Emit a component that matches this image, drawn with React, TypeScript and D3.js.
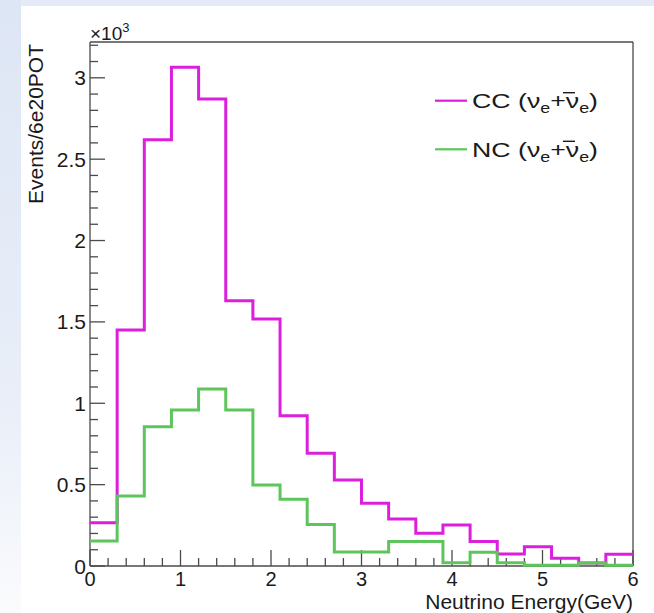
import React from "react";
import * as d3 from "d3";

// ---- data ----
const binLowEdges = [0, 0.3, 0.6, 0.9, 1.2, 1.5, 1.8, 2.1, 2.4, 2.7, 3.0, 3.3, 3.6, 3.9, 4.2, 4.5, 4.8, 5.1, 5.4, 5.7];
const binWidth = 0.3;
const ccEvents = [266, 1450, 2620, 3065, 2870, 1630, 1518, 924, 693, 529, 385, 289, 201, 252, 150, 74, 119, 47, 18, 72];
const ncEvents = [154, 430, 856, 959, 1088, 959, 498, 410, 255, 86, 86, 150, 150, 20, 84, 20, 4, 4, 18, 4];
const xMajorTicks = [0, 1, 2, 3, 4, 5, 6];
const xTickLabels = ["0", "1", "2", "3", "4", "5", "6"];
const yMajorTicks = [0, 500, 1000, 1500, 2000, 2500, 3000];
const yTickLabels = ["0", "0.5", "1", "1.5", "2", "2.5", "3"];
const seriesNames = ["CC", "NC"];
const xTitle = "Neutrino Energy(GeV)";
const yTitle = "Events/6e20POT";

// ---- layout / style ----
const W = 654, H = 613;
const X0 = 90, X1 = 633, Y0 = 566, Y1 = 42;
const CC_COLOR = "#dc1fdc";
const NC_COLOR = "#5cc65c";
const AXIS_COLOR = "#4a4a4a";
const TEXT_COLOR = "#1a1a1a";
const FONT = "'Liberation Sans', Arial, Helvetica, sans-serif";

export default function App() {
  const x = d3.scaleLinear().domain([0, 6]).range([X0, X1]);
  const y = d3.scaleLinear().domain([0, 3220]).range([Y0, Y1]);

  const xMinor = d3.range(0, 6.0001, 0.2).filter((v) => Math.abs(v - Math.round(v)) > 1e-6);
  const yMinor = d3.range(0, 3220, 100).filter((v) => v % 500 !== 0);

  const stepLine = d3
    .line<[number, number]>()
    .x((d) => x(d[0]))
    .y((d) => y(d[1]))
    .curve(d3.curveStepAfter);

  const histPts = (vals: number[]): [number, number][] => {
    const pts: [number, number][] = binLowEdges.map((e, i) => [e, vals[i]]);
    const last = binLowEdges.length - 1;
    pts.push([binLowEdges[last] + binWidth, vals[last]]);
    return pts;
  };

  const series = [
    { name: seriesNames[0], vals: ccEvents, color: CC_COLOR },
    { name: seriesNames[1], vals: ncEvents, color: NC_COLOR },
  ];

  const LEG_X = 472;

  return (
    <div style={{ position: "absolute", left: 0, top: 0 }}>
      <svg width={W} height={H} style={{ display: "block" }} fontFamily={FONT}>
        <defs>
          <linearGradient id="leftGrad" x1="0" y1="0" x2="0" y2="1">
            <stop offset="0" stopColor="#dde6f5" />
            <stop offset="0.65" stopColor="#e9eef8" />
            <stop offset="1" stopColor="#fafbfd" />
          </linearGradient>
        </defs>
        <rect x={0} y={0} width={W} height={H} fill="#e4eaf6" />
        <rect x={0} y={0} width={21} height={H} fill="url(#leftGrad)" />
        <rect x={21} y={6} width={W - 21} height={H - 6} fill="#ffffff" />

        {/* frame top/right */}
        <line x1={X0} x2={X1} y1={Y1} y2={Y1} stroke={AXIS_COLOR} strokeWidth={1.3} />
        <line x1={X1} x2={X1} y1={Y1} y2={Y0} stroke={AXIS_COLOR} strokeWidth={1.3} />

        {/* y axis */}
        <line x1={X0} x2={X0} y1={Y0} y2={Y1} stroke={AXIS_COLOR} strokeWidth={1.3} />
        {yMajorTicks.map((t) => (
          <line key={"ym" + t} x1={X0} x2={X0 + 15} y1={y(t)} y2={y(t)} stroke={AXIS_COLOR} strokeWidth={1.3} />
        ))}
        {yMinor.map((t) => (
          <line key={"yn" + t} x1={X0} x2={X0 + 8} y1={y(t)} y2={y(t)} stroke={AXIS_COLOR} strokeWidth={1.3} />
        ))}
        {yMajorTicks.map((t, i) => (
          <text key={"yl" + t} x={X0 - 4} y={y(t) + 7.5} textAnchor="end" fontSize={21} fill={TEXT_COLOR}>
            {yTickLabels[i]}
          </text>
        ))}

        {/* x axis */}
        <line x1={X0} x2={X1} y1={Y0} y2={Y0} stroke={AXIS_COLOR} strokeWidth={1.3} />
        {xMajorTicks.map((t) => (
          <line key={"xm" + t} x1={x(t)} x2={x(t)} y1={Y0} y2={Y0 - 16} stroke={AXIS_COLOR} strokeWidth={1.3} />
        ))}
        {xMinor.map((t) => (
          <line key={"xn" + t} x1={x(t)} x2={x(t)} y1={Y0} y2={Y0 - 8} stroke={AXIS_COLOR} strokeWidth={1.3} />
        ))}
        {xMajorTicks.map((t, i) => (
          <text key={"xl" + t} x={x(t)} y={585.5} textAnchor="middle" fontSize={20} fill={TEXT_COLOR}>
            {xTickLabels[i]}
          </text>
        ))}

        {/* exponent */}
        <text x={X0} y={40} fontSize={19} fill={TEXT_COLOR}>
          <tspan>×10</tspan>
          <tspan fontSize={13} dy={-8}>3</tspan>
        </text>

        {/* titles */}
        <text x={X1} y={609} textAnchor="end" fontSize={21} fill={TEXT_COLOR}>
          {xTitle}
        </text>
        <text transform={`translate(43,44) rotate(-90)`} textAnchor="end" fontSize={21} fill={TEXT_COLOR}>
          {yTitle}
        </text>

        {/* histograms */}
        {series.map((s) => (
          <path
            key={s.name}
            d={stepLine(histPts(s.vals)) || ""}
            fill="none"
            stroke={s.color}
            strokeWidth={3}
            strokeLinejoin="miter"
          />
        ))}

        {/* legend */}
        {series.map((s, i) => {
          const ly = 100.7 + i * 48.6;
          return (
            <g key={"lg" + s.name}>
              <line x1={435} x2={467} y1={ly} y2={ly} stroke={s.color} strokeWidth={2.2} />
              <text
                x={LEG_X}
                y={ly + 7.6}
                fontSize={21}
                fill={TEXT_COLOR}
                textLength={126}
                lengthAdjust="spacingAndGlyphs"
              >
                <tspan>{s.name} (</tspan>
                <tspan>ν</tspan>
                <tspan fontSize={14} dy={5}>e</tspan>
                <tspan dy={-5}>+</tspan>
                <tspan>ν</tspan>
                <tspan fontSize={14} dy={5}>e</tspan>
                <tspan dy={-5}>)</tspan>
              </text>
              <line x1={LEG_X + 91} x2={LEG_X + 103} y1={ly - 8} y2={ly - 8} stroke={TEXT_COLOR} strokeWidth={1.4} />
            </g>
          );
        })}
      </svg>
    </div>
  );
}
